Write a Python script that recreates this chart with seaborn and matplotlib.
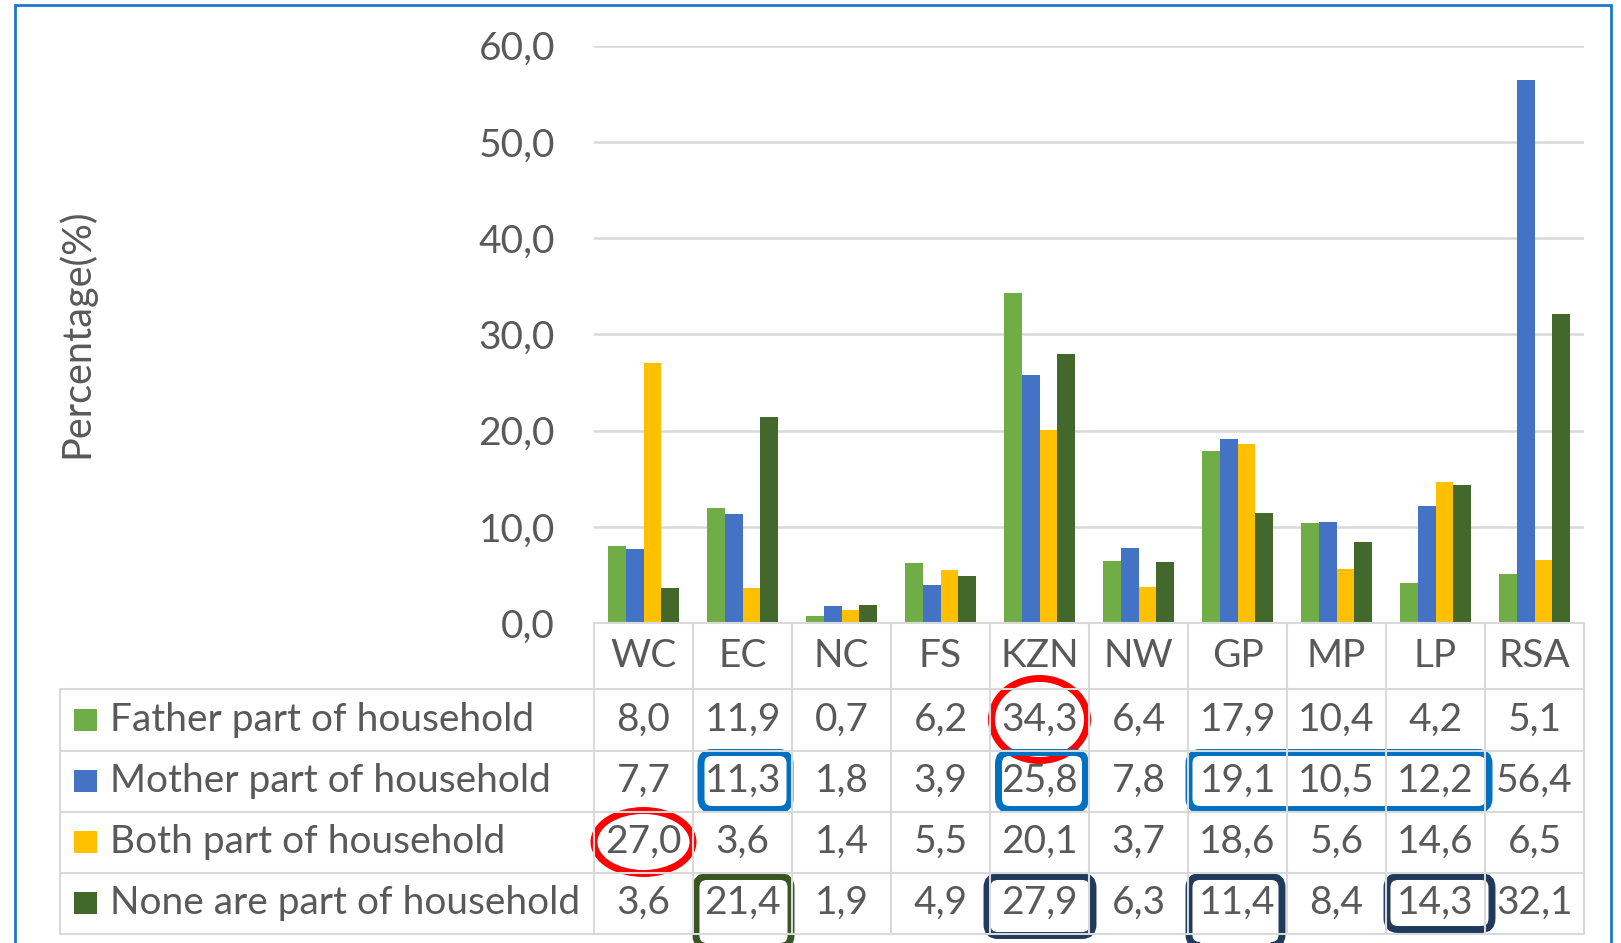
import matplotlib
matplotlib.use("Agg")
import matplotlib.pyplot as plt
import seaborn as sns
import pandas as pd
import numpy as np
from matplotlib.patches import Rectangle, Ellipse, FancyBboxPatch
from matplotlib.lines import Line2D
from matplotlib.transforms import IdentityTransform

# ---------------- data ----------------
categories = ["WC", "EC", "NC", "FS", "KZN", "NW", "GP", "MP", "LP", "RSA"]
series_names = ["Father part of household", "Mother part of household",
                "Both part of household", "None are part of household"]
father = [8.0, 11.9, 0.7, 6.2, 34.3, 6.4, 17.9, 10.4, 4.2, 5.1]
mother = [7.7, 11.3, 1.8, 3.9, 25.8, 7.8, 19.1, 10.5, 12.2, 56.4]
both = [27.0, 3.6, 1.4, 5.5, 20.1, 3.7, 18.6, 5.6, 14.6, 6.5]
none = [3.6, 21.4, 1.9, 4.9, 27.9, 6.3, 11.4, 8.4, 14.3, 32.1]
yticks = [0, 10, 20, 30, 40, 50, 60]
y_label = "Percentage(%)"
colors = ["#70AD47", "#4472C4", "#FFC000", "#43682B"]

series_values = [father, mother, both, none]
df = pd.DataFrame({
    "Region": categories * 4,
    "Series": [s for s in series_names for _ in categories],
    "Value": [v for vals in series_values for v in vals],
})

# ---------------- style ----------------
sns.set_theme(style="white")
plt.rcParams["font.family"] = ["Lato", "DejaVu Sans"]
TXT = "#595959"
GRID = "#D9D9D9"

W, H = 1621, 943
fig = plt.figure(figsize=(W / 100, H / 100), dpi=100)
fig.patch.set_facecolor("white")

ax_left, ax_right, ax_top, ax_bottom = 594, 1584, 45.5, 623
ax = fig.add_axes([ax_left / W, 1 - ax_bottom / H,
                   (ax_right - ax_left) / W, (ax_bottom - ax_top) / H])

sns.barplot(data=df, x="Region", y="Value", hue="Series", order=categories,
            hue_order=series_names, palette=colors, width=0.71, gap=0,
            saturation=1, linewidth=0, legend=False, ax=ax)

ax.set_xlim(-0.5, len(categories) - 0.5)
ax.set_ylim(0, 60)
ax.set_yticks(yticks)
ax.set_yticklabels([f"{v:.1f}".replace(".", ",") for v in yticks])
ax.set_xticks([])
ax.set_xlabel("")
ax.set_ylabel("")
ax.yaxis.grid(True, color=GRID, lw=1.8)
ax.set_axisbelow(True)
for s in ax.spines.values():
    s.set_visible(False)
ax.tick_params(axis="y", length=0, pad=28, labelsize=28, labelcolor=TXT)

fig.text(76 / W, 1 - 333 / H, y_label, rotation=90, ha="center", va="center",
         fontsize=28.5, color=TXT)

# ---------------- data table (pixel coords, top-origin) ----------------
ID = IdentityTransform()


def P(x, y):
    return (x, H - y)


xb = [ax.transData.transform((i - 0.5, 0))[0] for i in range(len(categories) + 1)]
xc = [ax.transData.transform((i, 0))[0] for i in range(len(categories))]
rows = [623, 688.5, 750.5, 811.5, 872.5, 933.5]
tbl_left = 60


def hline(x0, x1, y, color=GRID, lw=1.5):
    fig.add_artist(Line2D([x0, x1], [H - y, H - y], transform=ID, color=color, lw=lw))


def vline(x, y0, y1, color=GRID, lw=1.5):
    fig.add_artist(Line2D([x, x], [H - y0, H - y1], transform=ID, color=color, lw=lw))


hline(xb[0], xb[-1], rows[0])
for y in rows[1:]:
    hline(tbl_left, xb[-1], y)
for x in xb:
    vline(x, rows[0], rows[-1])
vline(tbl_left, rows[1], rows[-1])

# header
for i, c in enumerate(categories):
    fig.text(xc[i] / W, 1 - (rows[0] + rows[1]) / 2 / H, c, ha="center",
             va="center", fontsize=28, color=TXT)

# series rows
for r, (name, vals, col) in enumerate(zip(series_names, series_values, colors)):
    yc = (rows[r + 1] + rows[r + 2]) / 2
    fig.add_artist(Rectangle(P(74, yc + 11), 23, 22, transform=ID, color=col, lw=0))
    fig.text(110 / W, 1 - yc / H, name, ha="left", va="center", fontsize=28, color=TXT)
    for i, v in enumerate(vals):
        fig.text(xc[i] / W, 1 - yc / H, f"{v:.1f}".replace(".", ","), ha="center",
                 va="center", fontsize=28, color=TXT)

# ---------------- annotations ----------------
LW = 5.0
RED = "#FF0000"
BLUE = "#0070C0"
DKGREEN = "#375623"
NAVY = "#203A5C"


def ellipse(ci, r, w, h):
    yc = (rows[r + 1] + rows[r + 2]) / 2
    fig.add_artist(Ellipse(P(xc[ci], yc), w, h, transform=ID, fill=False,
                           edgecolor=RED, lw=LW))


def rbox(c0, c1, r, color, a, b, dy0, dy1):
    x0 = xb[c0] + a
    x1 = xb[c1 + 1] + b
    y0 = rows[r + 1] + dy0
    y1 = rows[r + 2] + dy1
    fig.add_artist(FancyBboxPatch(P(x0, y1), x1 - x0, y1 - y0,
                                  boxstyle="round,pad=0,rounding_size=11",
                                  transform=ID, fill=False, edgecolor=color, lw=LW))


ellipse(4, 0, 96, 82)   # KZN father
ellipse(0, 2, 99, 63)   # WC both
rbox(1, 1, 1, BLUE, 8, -2, 2, -2)
rbox(4, 4, 1, BLUE, 8.5, -3.5, 2, -2)
rbox(6, 8, 1, BLUE, 1, 4, 2, -2)
rbox(1, 1, 3, DKGREEN, 3, -1, 4, 13)
rbox(4, 4, 3, NAVY, -3, 4, 4, 2)
rbox(6, 6, 3, NAVY, 1, -5, 4, 12)
rbox(8, 8, 3, NAVY, 1, 7, 4, -4)

# outer frame
fig.add_artist(Rectangle(P(14.5, 990), 1611 - 14.5, 990 - 5, transform=ID,
                         fill=False, edgecolor="#1F78C8", lw=2))

fig.savefig("out.png", dpi=100, facecolor="white")
